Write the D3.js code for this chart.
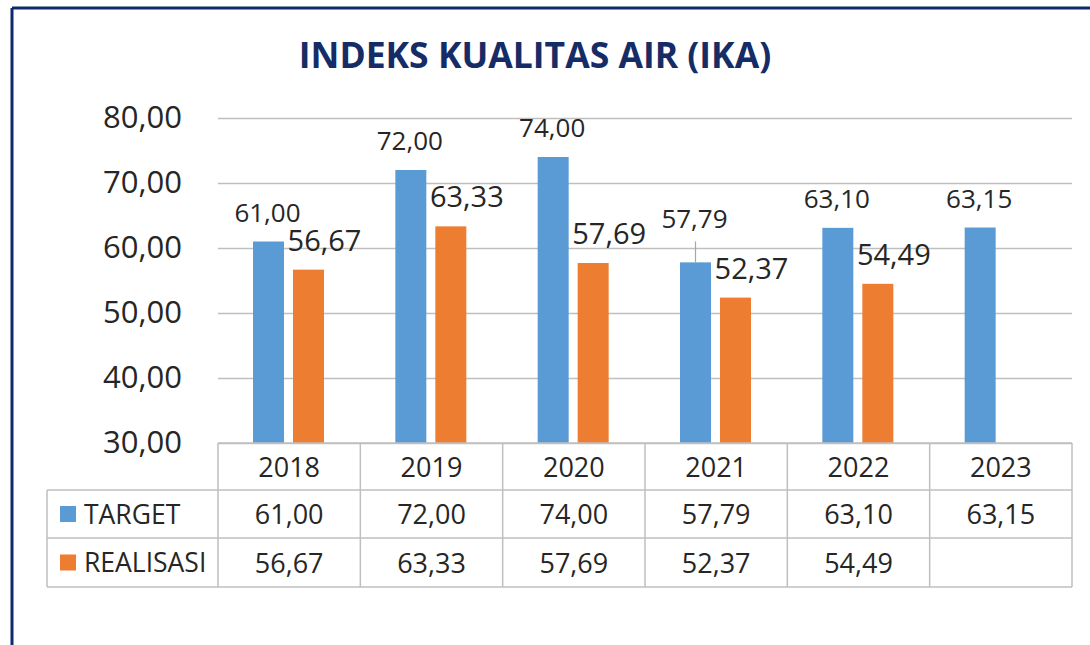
<!DOCTYPE html>
<html>
<head>
<meta charset="utf-8">
<script src="https://cdn.jsdelivr.net/npm/d3@7"></script>
<style>
  body { margin: 0; background: #fff; }
  text { font-family: 'Open Sans', sans-serif; fill: #262626; }
</style>
</head>
<body>
<svg width="1090" height="645"></svg>
<script>
const years = ['2018', '2019', '2020', '2021', '2022', '2023'];
const target = [61.00, 72.00, 74.00, 57.79, 63.10, 63.15];
const realisasi = [56.67, 63.33, 57.69, 52.37, 54.49, null];
const seriesNames = ['TARGET', 'REALISASI'];
const colors = ['#5b9bd5', '#ed7d31'];
const yTicks = [30, 40, 50, 60, 70, 80];
const title = 'INDEKS KUALITAS AIR (IKA)';

const svg = d3.select('svg');
const width = +svg.attr('width');
const height = +svg.attr('height');

const fmt = v => v == null ? '' : d3.format('.2f')(v).replace('.', ',');

// frame (only top and left edges show in the picture)
svg.append('line').attr('x1', 12).attr('x2', width).attr('y1', 8).attr('y2', 8)
  .attr('stroke', '#0e2a6c').attr('stroke-width', 3);
svg.append('line').attr('x1', 12).attr('x2', 12).attr('y1', 8).attr('y2', height)
  .attr('stroke', '#0e2a6c').attr('stroke-width', 3);

svg.append('text')
  .attr('x', 535).attr('y', 68)
  .attr('text-anchor', 'middle')
  .style('font-size', '35.5px').style('font-weight', 700).style('fill', '#152c66')
  .text(title);

const margin = { left: 218, right: 18, top: 118 };
const plotBottom = 443;

const x = d3.scaleBand().domain(years).range([margin.left, width - margin.right]);
const xSub = d3.scaleBand().domain(seriesNames).range([35, 106]).paddingInner(0.225);
const y = d3.scaleLinear().domain([30, 80]).range([plotBottom, margin.top]);

// gridlines + y labels
const yAxis = d3.axisLeft(y).tickValues(yTicks).tickFormat(fmt)
  .tickSize(-(x.range()[1] - x.range()[0])).tickPadding(36);
const gy = svg.append('g').attr('transform', `translate(${margin.left},0)`).call(yAxis);
gy.select('.domain').remove();
gy.selectAll('.tick line').attr('stroke', '#bfbfbf').attr('stroke-width', 1.4);
gy.selectAll('.tick text').style('font-size', '31px').attr('fill', '#262626')
  .attr('font-family', null);

const rows = years.map((yr, i) => ({ year: yr, values: [target[i], realisasi[i]] }));

const groups = svg.selectAll('g.cat').data(rows).enter().append('g')
  .attr('class', 'cat')
  .attr('transform', d => `translate(${x(d.year)},0)`);

groups.selectAll('rect').data(d => d.values.map((v, k) => ({ v, k, year: d.year })))
  .enter().filter(d => d.v != null).append('rect')
  .attr('x', d => xSub(seriesNames[d.k]))
  .attr('width', xSub.bandwidth())
  .attr('y', d => y(d.v))
  .attr('height', d => plotBottom - y(d.v))
  .attr('fill', d => colors[d.k]);

// data labels; the 2021 target label sits higher with a leader line
const raised = new Set(['2021']);
groups.each(function(d) {
  const g = d3.select(this);
  const tv = d.values[0], rv = d.values[1];
  const cx0 = xSub('TARGET') + xSub.bandwidth() / 2;
  const cx1 = xSub('REALISASI') + xSub.bandwidth() / 2;
  if (tv != null) {
    const lift = raised.has(d.year) ? 34 : 20;
    if (raised.has(d.year)) {
      g.append('line').attr('x1', cx0).attr('x2', cx0)
        .attr('y1', y(tv) - lift + 13).attr('y2', y(tv))
        .attr('stroke', '#a6a6a6').attr('stroke-width', 1.2);
    }
    g.append('text').attr('x', cx0 - 1).attr('y', y(tv) - lift)
      .attr('text-anchor', 'middle').style('font-size', '26px').text(fmt(tv));
  }
  if (rv != null) {
    g.append('text').attr('x', cx1 + 16).attr('y', y(rv) - 19)
      .attr('text-anchor', 'middle').style('font-size', '29px').text(fmt(rv));
  }
});

// data table under the plot
const rowY = [443, 490, 538, 587];
const tableLeft = 47;
const right = x.range()[1];
const lineColor = '#bfbfbf';
const tbl = svg.append('g');

tbl.append('line').attr('x1', margin.left).attr('x2', right).attr('y1', rowY[0]).attr('y2', rowY[0]);
[1, 2, 3].forEach(r => {
  tbl.append('line').attr('x1', tableLeft).attr('x2', right).attr('y1', rowY[r]).attr('y2', rowY[r]);
});
tbl.append('line').attr('x1', tableLeft).attr('x2', tableLeft).attr('y1', rowY[1]).attr('y2', rowY[3]);
years.concat(['end']).forEach((yr, i) => {
  const xx = yr === 'end' ? right : x(yr);
  tbl.append('line').attr('x1', xx).attr('x2', xx).attr('y1', rowY[0]).attr('y2', rowY[3]);
});
tbl.selectAll('line').attr('stroke', lineColor).attr('stroke-width', 1.5);

const mid = r => (rowY[r] + rowY[r + 1]) / 2;

tbl.selectAll('text.yr').data(years).enter().append('text')
  .attr('x', d => x(d) + x.bandwidth() / 2).attr('y', mid(0) + 10)
  .attr('text-anchor', 'middle').style('font-size', '27px').text(d => d);

[target, realisasi].forEach((arr, k) => {
  tbl.selectAll(null).data(arr).enter().append('text')
    .attr('x', (d, i) => x(years[i]) + x.bandwidth() / 2).attr('y', mid(k + 1) + 10)
    .attr('text-anchor', 'middle').style('font-size', '27px').text(d => fmt(d));
  tbl.append('rect').attr('x', 60).attr('y', mid(k + 1) - 8).attr('width', 16).attr('height', 16)
    .attr('fill', colors[k]);
  tbl.append('text').attr('x', 84).attr('y', mid(k + 1) + 9.5)
    .style('font-size', '26.5px').text(seriesNames[k]);
});
</script>
</body>
</html>
